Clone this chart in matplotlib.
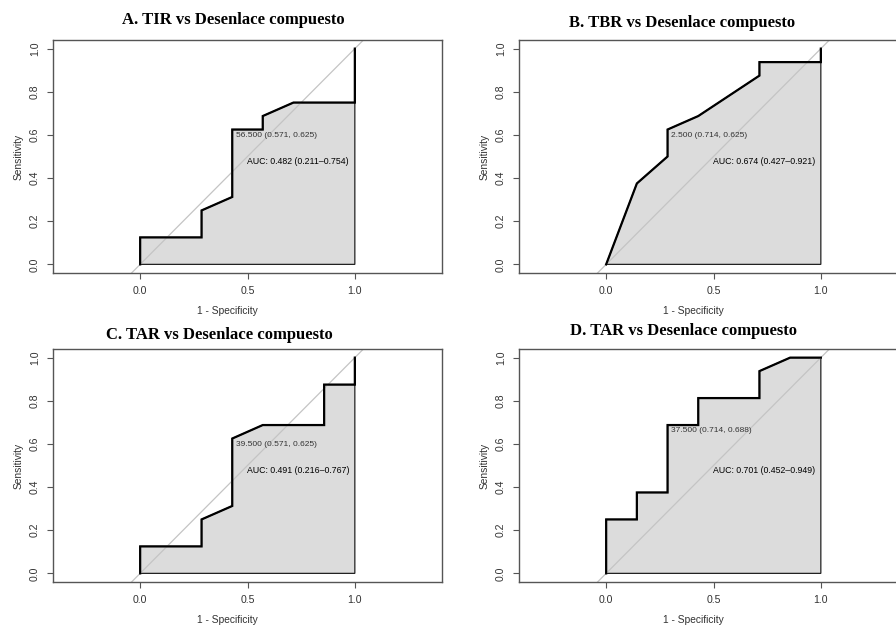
import numpy as np
import matplotlib
matplotlib.use("Agg")
import matplotlib.pyplot as plt

plt.rcParams["font.family"] = ["Liberation Sans", "DejaVu Sans"]

# ROC curves: x = 1 - specificity, y = sensitivity
fpr_a = [0.0, 0.0, 0.286, 0.286, 0.429, 0.429, 0.571, 0.571, 0.714, 1.0, 1.0]
sens_a = [0.0, 0.125, 0.125, 0.25, 0.3125, 0.625, 0.625, 0.6875, 0.75, 0.75, 1.0]

fpr_b = [0.0, 0.143, 0.286, 0.286, 0.429, 0.714, 0.714, 1.0, 1.0]
sens_b = [0.0, 0.375, 0.5, 0.625, 0.6875, 0.875, 0.9375, 0.9375, 1.0]

fpr_c = [0.0, 0.0, 0.286, 0.286, 0.429, 0.429, 0.571, 0.857, 0.857, 1.0, 1.0]
sens_c = [0.0, 0.125, 0.125, 0.25, 0.3125, 0.625, 0.6875, 0.6875, 0.875, 0.875, 1.0]

fpr_d = [0.0, 0.0, 0.143, 0.143, 0.286, 0.286, 0.429, 0.429, 0.714, 0.714, 0.857, 1.0]
sens_d = [0.0, 0.25, 0.25, 0.375, 0.375, 0.6875, 0.6875, 0.8125, 0.8125, 0.9375, 1.0, 1.0]

titles = ["A. TIR vs Desenlace compuesto", "B. TBR vs Desenlace compuesto",
          "C. TAR vs Desenlace compuesto", "D. TAR vs Desenlace compuesto"]
thresholds = [56.5, 2.5, 39.5, 37.5]
thr_spec = [0.571, 0.714, 0.571, 0.714]
thr_sens = [0.625, 0.625, 0.625, 0.688]
auc = [0.482, 0.674, 0.491, 0.701]
auc_lo = [0.211, 0.427, 0.216, 0.452]
auc_hi = [0.754, 0.921, 0.767, 0.949]

curves = [(fpr_a, sens_a), (fpr_b, sens_b), (fpr_c, sens_c), (fpr_d, sens_d)]

W, H = 896, 626
# axes boxes in pixels (left, top, width, height) and title anchors
BOXES = [(53, 40, 389, 233), (519, 40, 389, 233),
         (53, 349, 389, 233), (519, 349, 389, 233)]
TITLE_POS = [(233, 20), (682, 23), (219, 335), (684, 331)]

FILL = "#dcdcdc"
BOX = "#555555"
TXT = "#333333"

fig = plt.figure(figsize=(W / 100, H / 100), dpi=100)

for i, (x, y) in enumerate(curves):
    l, t, w, h = BOXES[i]
    ax = fig.add_axes([l / W, 1 - (t + h) / H, w / W, h / H])
    ax.set_xlim(-0.406, 1.406)
    ax.set_ylim(-0.04, 1.04)

    x = np.asarray(x); y = np.asarray(y)
    ax.fill(np.r_[x, 1.0, 0.0], np.r_[y, 0.0, 0.0], facecolor=FILL,
            edgecolor="#222222", lw=0.9, zorder=1)
    ax.plot([-0.5, 1.5], [-0.5, 1.5], color="#c4c4c4", lw=0.9, zorder=2)
    ax.plot(x, y, color="black", lw=1.6, zorder=3, solid_joinstyle="miter")

    ax.text(1 - thr_spec[i] + 0.016, thr_sens[i] - 0.027,
            f"{thresholds[i]:.3f} ({thr_spec[i]:.3f}, {thr_sens[i]:.3f})",
            fontsize=6.0, color=TXT, ha="left", va="center", zorder=4)
    ax.text(0.497, 0.478 if i >= 2 else 0.475,
            f"AUC: {auc[i]:.3f} ({auc_lo[i]:.3f}\u2013{auc_hi[i]:.3f})",
            fontsize=6.3, color="black", ha="left", va="center", zorder=4)

    ax.set_xticks([0.0, 0.5, 1.0])
    ax.set_xticklabels(["0.0", "0.5", "1.0"])
    ax.set_yticks(np.arange(0, 1.01, 0.2))
    ax.set_yticklabels([f"{v:.1f}" for v in np.arange(0, 1.01, 0.2)],
                       rotation=90, va="center")
    ax.tick_params(direction="out", length=4.5, width=0.8, colors=BOX,
                   labelcolor=TXT, labelsize=7.6, pad=5)
    for s in ax.spines.values():
        s.set_color(BOX); s.set_linewidth(1.0)

    ax.set_xlabel("1 - Specificity", fontsize=7.4, color=TXT)
    ax.xaxis.set_label_coords(0.447, -0.14)
    ax.set_ylabel("Sensitivity", fontsize=7.4, color=TXT)
    ax.yaxis.set_label_coords(-0.075, 0.5)

    tx, ty = TITLE_POS[i]
    fig.text(tx / W, 1 - ty / H, titles[i], family="Liberation Serif",
             fontweight="bold", fontsize=12, ha="center", va="center")

fig.savefig("out.png", dpi=100)
